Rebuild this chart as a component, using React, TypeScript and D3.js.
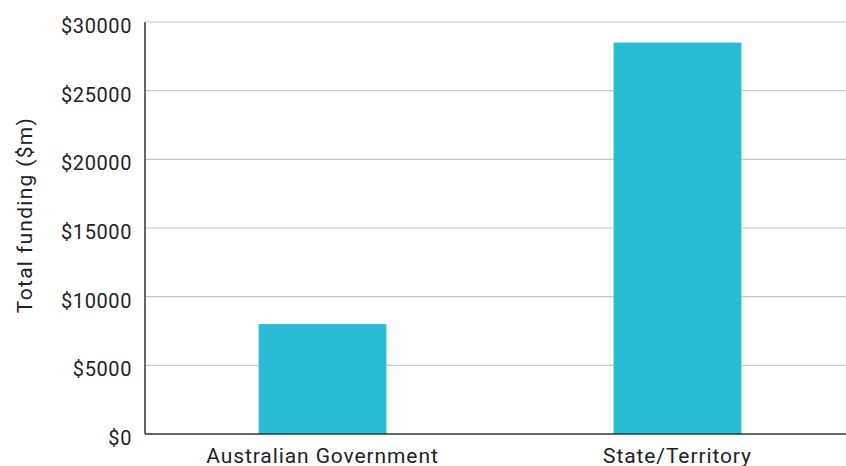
import React from "react";
import * as d3 from "d3";

const categories = ["Australian Government", "State/Territory"];
const values = [8000, 28500];
const yTicks = [0, 5000, 10000, 15000, 20000, 25000, 30000];
const yAxisTitle = "Total funding ($m)";

const W = 846;
const H = 466;
const left = 145;
const top = 22;
const bottom = 434;
const rightRange = 855;

export default function App() {
  const x = d3
    .scaleBand<string>()
    .domain(categories)
    .range([left, rightRange])
    .paddingInner(0.64)
    .paddingOuter(0.32);
  const y = d3.scaleLinear().domain([0, 30000]).range([bottom, top]);
  const font = "Roboto, sans-serif";
  return (
    <svg
      width={W}
      height={H}
      style={{ position: "absolute", left: 0, top: 0, background: "#fff" }}
    >
      {yTicks.map((t) => (
        <g key={t}>
          {t !== 0 && (
            <line x1={left} x2={W} y1={y(t)} y2={y(t)} stroke="#c8c8c8" strokeWidth={1.2} />
          )}
          <text
            x={132}
            y={y(t) + 4}
            dy="0.35em"
            textAnchor="end"
            fontFamily={font}
            fontSize={20}
            letterSpacing={0.6}
            fill="#222"
          >
            {"$" + t}
          </text>
        </g>
      ))}
      {categories.map((c, i) => (
        <rect
          key={c}
          x={x(c)}
          y={y(values[i])}
          width={x.bandwidth()}
          height={bottom - y(values[i])}
          fill="#29bad6"
        />
      ))}
      <line x1={left} x2={left} y1={top} y2={bottom} stroke="#333" strokeWidth={1.5} />
      <line x1={left} x2={W} y1={bottom} y2={bottom} stroke="#333" strokeWidth={1.5} />
      {categories.map((c) => (
        <text
          key={c}
          x={(x(c) as number) + x.bandwidth() / 2}
          y={462.5}
          textAnchor="middle"
          fontFamily={font}
          fontSize={21}
          letterSpacing={0.9}
          fill="#222"
        >
          {c}
        </text>
      ))}
      <text
        transform={`translate(32,215) rotate(-90)`}
        textAnchor="middle"
        fontFamily={font}
        fontSize={21}
        letterSpacing={1.3}
        fill="#222"
      >
        {yAxisTitle}
      </text>
    </svg>
  );
}
